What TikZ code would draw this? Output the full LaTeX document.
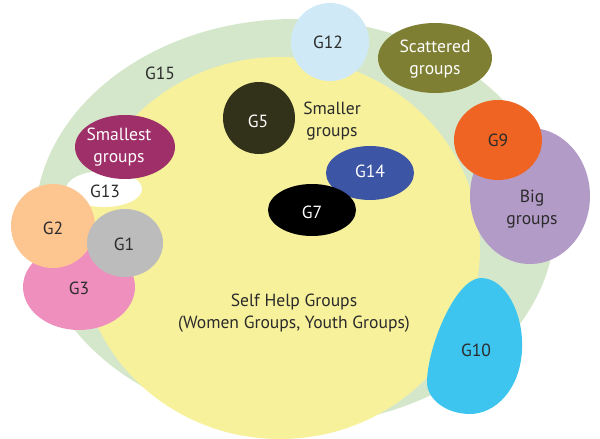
\documentclass[tikz,border=0pt]{standalone}
\usepackage{fontspec}
\setmainfont{PT Sans}
\definecolor{bandgreen}{HTML}{D4E7CB}
\definecolor{shgyellow}{HTML}{F7F19C}
\definecolor{skyblue}{HTML}{CFEAF6}
\definecolor{olive}{HTML}{7E7F33}
\definecolor{orange}{HTML}{EF6423}
\definecolor{lilac}{HTML}{B39BC8}
\definecolor{cyan}{HTML}{3DC5EF}
\definecolor{royal}{HTML}{3C55A5}
\definecolor{darkolive}{HTML}{32321A}
\definecolor{plum}{HTML}{9E2F68}
\definecolor{peach}{HTML}{FDC58F}
\definecolor{grey}{HTML}{BCBCBC}
\definecolor{pink}{HTML}{EF8FBE}
\definecolor{txtdark}{HTML}{2B2B2B}
\tikzset{
  lbl/.style={font=\fontsize{12.5}{16}\selectfont, text=txtdark, align=center, inner sep=0pt},
  lblw/.style={lbl, text=white}
}
\begin{document}
\begin{tikzpicture}[x=0.025cm, y=-0.025cm]
    \useasboundingbox (0,0) rectangle (600,439);
    % outer band and self help groups
    \fill[bandgreen] (295,222) ellipse [x radius=260, y radius=203];
    \fill[shgyellow] (280,248) ellipse [x radius=200, y radius=191];
    % groups on the rim, right side
    \fill[skyblue] (330,42) circle [radius=39];
    \fill[olive] (435,58) ellipse [x radius=57, y radius=35];
    \fill[lilac] (530,196) ellipse [x radius=60, y radius=68];
    \fill[orange] (498,140) ellipse [x radius=44, y radius=40];
    \fill[cyan] (481,278) .. controls (506,278) and (524,315) .. (522,350)
        .. controls (520,390) and (495,414) .. (470,414)
        .. controls (445,414) and (426,398) .. (427,381)
        .. controls (428,345) and (456,278) .. (481,278) -- cycle;
    % groups inside
    \fill[darkolive] (259,118) circle [radius=36];
    \fill[royal] (370,173) ellipse [x radius=44, y radius=27];
    \fill[black] (312,210) ellipse [x radius=44, y radius=26];
    % groups on the rim, left side
    \fill[white] (104,189) ellipse [x radius=38, y radius=18];
    \fill[plum] (125,147) ellipse [x radius=50, y radius=32];
    \fill[pink] (79,287) ellipse [x radius=56, y radius=43];
    \fill[peach] (53,226) circle [radius=42];
    \fill[grey] (125,243) ellipse [x radius=38, y radius=34];
    % labels
    \node[lbl] (g15) at (160,73) {G15};
    \node[lbl] (g12) at (328,42) {G12};
    \node[lblw] (scattered) at (435,59) {Scattered\\groups};
    \node[lbl] (g9) at (498,140) {G9};
    \node[lbl] (big) at (532,209) {Big\\groups};
    \node[lbl] (g10) at (476,350) {G10};
    \node[lblw] (g5) at (258,121) {G5};
    \node[lbl] (smaller) at (332,121) {Smaller\\groups};
    \node[lblw] (g14) at (370,171) {G14};
    \node[lblw] (g7) at (312,212) {G7};
    \node[lblw] (smallest) at (119,147) {Smallest\\groups};
    \node[lbl] (g13) at (105,191) {G13};
    \node[lbl] (g2) at (53,228) {G2};
    \node[lbl] (g1) at (124,244) {G1};
    \node[lbl] (g3) at (79,288) {G3};
    \node[lbl] (shg) at (294,313) {Self Help Groups\\(Women Groups, Youth Groups)};
\end{tikzpicture}
\end{document}
